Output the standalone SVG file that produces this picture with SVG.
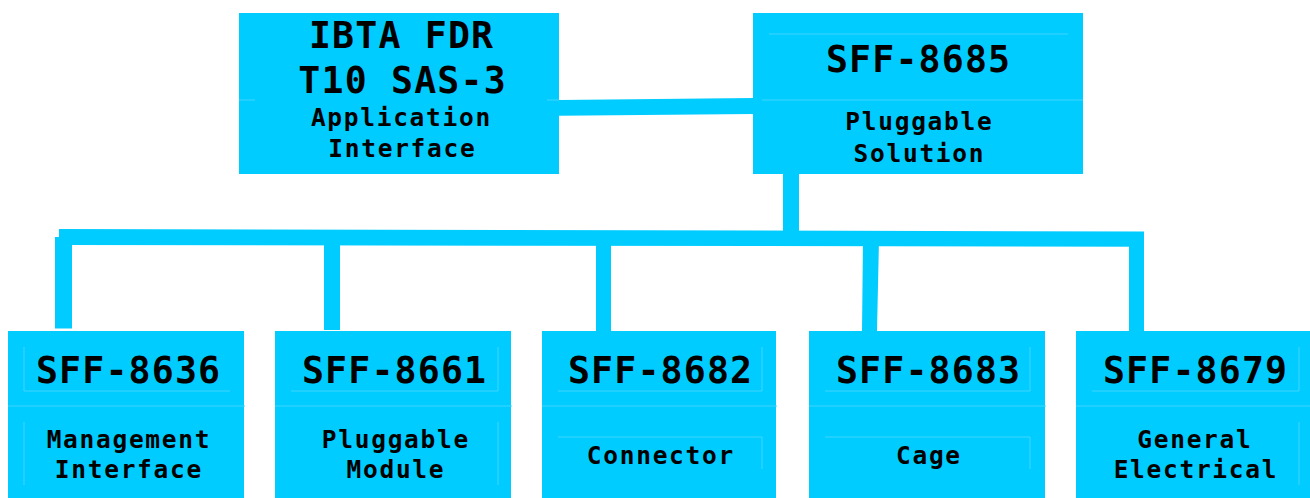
<svg xmlns="http://www.w3.org/2000/svg" width="1310" height="498" viewBox="0 0 1310 498">
<style>
.box{fill:#00CCFF}
.conn{fill:#00CCFF}
.faint{stroke:#40D6FF;stroke-width:1;fill:none}
text{font-family:"DejaVu Sans Mono","Liberation Mono",monospace;font-weight:bold;fill:#000;text-anchor:middle}
.big{font-size:36.5px;letter-spacing:1.2px}
.small{font-size:24.5px;letter-spacing:1.7px}
</style>
<rect width="1310" height="498" fill="#FFFFFF"/>
<g id="connectors">
<polygon class="conn" points="559,100 753,98 753,114 559,115.7"/>
<rect class="conn" x="783" y="174" width="16" height="60"/>
<polygon class="conn" points="59,229 1144,231.5 1144,246.7 59,245"/>
<rect class="conn" x="55" y="237" width="17" height="91.5"/>
<rect class="conn" x="324" y="240" width="16" height="90"/>
<rect class="conn" x="596" y="240" width="15" height="92"/>
<polygon class="conn" points="863,240 879,240 877,331 862,331"/>
<rect class="conn" x="1129" y="240" width="15" height="92"/>
</g>
<g id="node-ibta">
<rect class="box" x="239" y="13" width="320" height="161"/>
<path class="faint" d="M239,100H255M547,100H559"/>
<text class="big" x="401.6" y="48.3">IBTA FDR</text>
<text class="big" x="402.6" y="92.7">T10 SAS-3</text>
<text class="small" x="401.4" y="125.7">Application</text>
<text class="small" x="402.4" y="156.7">Interface</text>
</g>
<g id="node-sff8685">
<rect class="box" x="753" y="13" width="330" height="161"/>
<path class="faint" d="M769,34H1068M762,100H1083"/>
<text class="big" x="918.6" y="71.7">SFF-8685</text>
<text class="small" x="919.4" y="130">Pluggable</text>
<text class="small" x="919.4" y="162.3">Solution</text>
</g>
<g id="node-sff8636">
<rect class="box" x="8" y="331" width="236" height="170"/>
<path class="faint" d="M8,406H245M24,347V391H230M24,422V485"/>
<text class="big" x="128.6" y="383.3">SFF-8636</text>
<text class="small" x="128.9" y="448.3">Management</text>
<text class="small" x="128.9" y="478.3">Interface</text>
</g>
<g id="node-sff8661">
<rect class="box" x="275" y="331" width="236" height="170"/>
<path class="faint" d="M275,406H512M498,347V391H291M498,422V485"/>
<text class="big" x="394.6" y="383.3">SFF-8661</text>
<text class="small" x="395.9" y="448.3">Pluggable</text>
<text class="small" x="395.9" y="478.3">Module</text>
</g>
<g id="node-sff8682">
<rect class="box" x="542" y="331" width="234" height="170"/>
<path class="faint" d="M542,406H777M762,347V391H558M558,437H762V469"/>
<text class="big" x="660.6" y="383.3">SFF-8682</text>
<text class="small" x="660.9" y="464">Connector</text>
</g>
<g id="node-sff8683">
<rect class="box" x="809" y="331" width="236" height="170"/>
<path class="faint" d="M809,406H1046M1030,347V391H825M825,437H1030V469"/>
<text class="big" x="928.6" y="383.3">SFF-8683</text>
<text class="small" x="928.9" y="464">Cage</text>
</g>
<g id="node-sff8679">
<rect class="box" x="1076" y="331" width="234" height="170"/>
<path class="faint" d="M1076,406H1310M1299,347V391H1092M1299,422V485"/>
<text class="big" x="1195.6" y="383.3">SFF-8679</text>
<text class="small" x="1194.9" y="448.3">General</text>
<text class="small" x="1195.9" y="478.3">Electrical</text>
</g>
</svg>
